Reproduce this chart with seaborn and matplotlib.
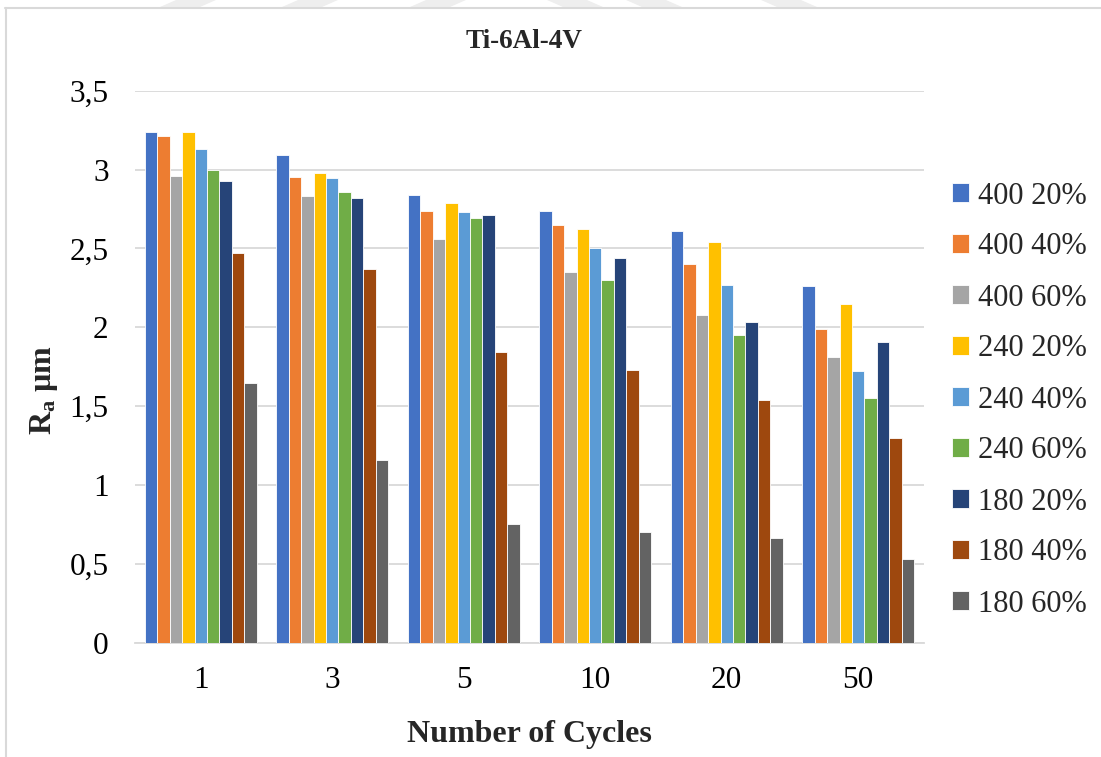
import matplotlib
matplotlib.use("Agg")
import matplotlib.pyplot as plt
from matplotlib.ticker import FuncFormatter, MultipleLocator
from matplotlib.lines import Line2D
from matplotlib.patches import Polygon
import seaborn as sns
import pandas as pd

# Surface roughness Ra (µm) per number of cycles for each grit / overlap setting
cycles = ["1", "3", "5", "10", "20", "50"]
series_names = ["400 20%", "400 40%", "400 60%",
                "240 20%", "240 40%", "240 60%",
                "180 20%", "180 40%", "180 60%"]
ra_400_20 = [3.24, 3.09, 2.84, 2.74, 2.61, 2.26]
ra_400_40 = [3.21, 2.955, 2.74, 2.65, 2.40, 1.99]
ra_400_60 = [2.96, 2.83, 2.56, 2.35, 2.075, 1.81]
ra_240_20 = [3.24, 2.98, 2.79, 2.62, 2.54, 2.15]
ra_240_40 = [3.13, 2.945, 2.73, 2.50, 2.27, 1.72]
ra_240_60 = [3.00, 2.86, 2.69, 2.30, 1.95, 1.55]
ra_180_20 = [2.93, 2.82, 2.71, 2.44, 2.03, 1.905]
ra_180_40 = [2.47, 2.37, 1.845, 1.73, 1.54, 1.30]
ra_180_60 = [1.645, 1.16, 0.75, 0.70, 0.66, 0.53]
all_series = [ra_400_20, ra_400_40, ra_400_60, ra_240_20, ra_240_40,
              ra_240_60, ra_180_20, ra_180_40, ra_180_60]

palette = ["#4472C4", "#ED7D31", "#A5A5A5", "#FFC000", "#5B9BD5",
           "#70AD47", "#264478", "#9E480E", "#636363"]

rows = []
for name, vals in zip(series_names, all_series):
    for c, v in zip(cycles, vals):
        rows.append({"Cycles": c, "Series": name, "Ra": v})
df = pd.DataFrame(rows)

sns.set_style("white")
plt.rcParams["font.family"] = ["Liberation Serif", "DejaVu Serif"]
plt.rcParams["mathtext.fontset"] = "custom"
plt.rcParams["mathtext.rm"] = "Liberation Serif"
plt.rcParams["mathtext.bf"] = "Liberation Serif:bold"
plt.rcParams["mathtext.it"] = "Liberation Serif:italic"

fig = plt.figure(figsize=(11.01, 7.57), dpi=100)
W, H = 1101, 757
ax = fig.add_axes([135 / W, 1 - 642.5 / H, (924 - 135) / W, (642.5 - 90.7) / H])

sns.barplot(data=df, x="Cycles", y="Ra", hue="Series", order=cycles,
            hue_order=series_names, palette=palette, width=0.85, gap=0,
            edgecolor="white", linewidth=0.6, saturation=1, ax=ax,
            legend=True, zorder=3)

ax.set_ylim(0, 3.5)
ax.set_xlim(-0.5, len(cycles) - 0.5)
ax.yaxis.set_major_locator(MultipleLocator(0.5))
ax.yaxis.set_major_formatter(FuncFormatter(lambda v, p: f"{v:g}".replace(".", ",")))
ax.grid(axis="y", color="#d9d9d9", linewidth=1.3, zorder=0)
ax.set_axisbelow(True)
for s in ["top", "right", "left"]:
    ax.spines[s].set_visible(False)
ax.spines["bottom"].set_color("#d9d9d9")
ax.spines["bottom"].set_linewidth(1.3)
ax.tick_params(axis="both", length=0, labelsize=22.5, colors="black")
ax.tick_params(axis="y", pad=19)
ax.tick_params(axis="x", pad=17)

ax.set_xlabel("Number of Cycles", fontsize=23, fontweight="bold", labelpad=18)
ax.set_ylabel(r"R$_\mathregular{a}$ µm", fontsize=23, fontweight="bold")
ax.yaxis.set_label_coords(-0.095, 0.457)

fig.text(524 / W, 1 - 42 / H, "Ti-6Al-4V", ha="center", va="center",
         fontsize=19.5, fontweight="bold")

handles, labels = ax.get_legend_handles_labels()
ax.legend(handles, labels, loc="center left", bbox_to_anchor=(940 / W, 1 - 400 / H),
          bbox_transform=fig.transFigure, frameon=False, fontsize=22,
          handlelength=0.55, handleheight=0.55, handletextpad=0.3,
          labelspacing=0.72, borderaxespad=0)

# chart frame (top and left edges)
fig.add_artist(Line2D([5 / W, 1.0], [1 - 8 / H, 1 - 8 / H],
                      transform=fig.transFigure, color="#d9d9d9", linewidth=1.5))
fig.add_artist(Line2D([6 / W, 6 / W], [0, 1 - 8 / H],
                      transform=fig.transFigure, color="#d9d9d9", linewidth=1.5))

# faint page watermark above the frame
for x0, slant in [(160, 1), (282, 1), (410, 1), (563, -1), (642, -1), (777, -1)]:
    w = 40
    d = 16 * slant
    pts = [(x0, 7), (x0 + w, 7), (x0 + w + d, 0), (x0 + d, 0)]
    fig.add_artist(Polygon([(px / W, 1 - py / H) for px, py in pts], closed=True,
                           transform=fig.transFigure, facecolor="#eeeeee",
                           edgecolor="none"))

fig.savefig("out.png", dpi=100)
